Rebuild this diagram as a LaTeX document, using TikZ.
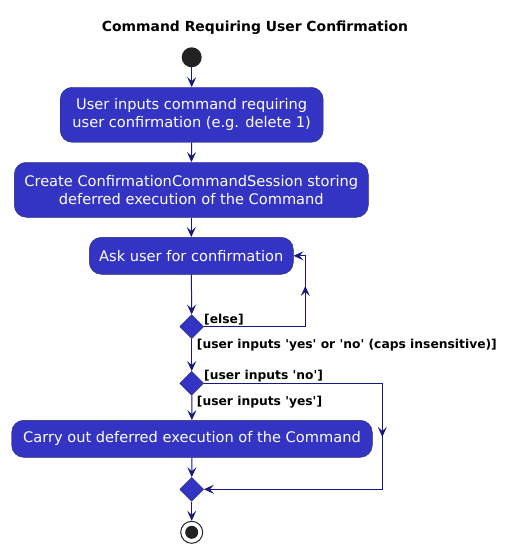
\documentclass[tikz,border=0pt]{standalone}
\usepackage{fontspec}
\setmainfont{DejaVu Sans}
\usetikzlibrary{shapes.geometric,arrows.meta}
\definecolor{actfill}{RGB}{52,52,196}
\definecolor{actline}{RGB}{40,40,110}
\definecolor{flowcol}{RGB}{24,24,128}
\definecolor{dot}{RGB}{34,34,34}
\newcommand{\sq}{\textquotesingle}

\begin{document}
\begin{tikzpicture}[x=1pt,y=-1pt,
  act/.style={draw=actline,fill=actfill,rounded corners=12pt,text=white,align=center,
    inner sep=0pt,font=\fontsize{14.6}{18}\selectfont},
  choice/.style={diamond,draw=actline,fill=actfill,minimum width=24pt,minimum height=24pt,inner sep=0pt},
  guard/.style={font=\bfseries\fontsize{12.3}{14}\selectfont,inner sep=0pt},
  flow/.style={draw=flowcol,line width=1pt,-{Stealth[length=10pt,width=9pt,inset=4pt]}},
  wire/.style={draw=flowcol,line width=1pt}]
  \useasboundingbox (0,0) rectangle (511,553);

  \node[font=\bfseries\fontsize{13.9}{17}\selectfont] (title) at (255,28) {Command Requiring User Confirmation};

  \node[circle,fill=dot,minimum size=20pt,inner sep=0pt] (start) at (191.7,57.3) {};
  \node[act,minimum width=263pt,minimum height=55pt] (input) at (191.7,114.8)
    {User inputs command requiring\\user confirmation (e.g. delete 1)};
  \node[act,minimum width=354pt,minimum height=55pt] (session) at (191.3,189.8)
    {Create ConfirmationCommandSession storing\\deferred execution of the Command};
  \node[act,minimum width=204pt,minimum height=37pt] (ask) at (191.3,255.8) {Ask user for confirmation};
  \node[choice] (valid) at (191.7,326.7) {};
  \node[choice] (answer) at (191.7,383.3) {};
  \node[act,minimum width=360.6pt,minimum height=37pt] (carry) at (192,438.8)
    {Carry out deferred execution of the Command};
  \node[choice] (merge) at (191.7,489.3) {};
  \node[circle,draw=dot,fill=white,line width=1pt,minimum size=22pt,inner sep=0pt] (stop) at (191.7,532.3) {};
  \node[circle,fill=dot,minimum size=13pt,inner sep=0pt] at (stop) {};

  \coordinate (L1) at (305.3,326.7);
  \coordinate (L2) at (305.3,255.8);
  \coordinate (Lm) at (305.3,286);
  \coordinate (N1) at (382.3,383.3);
  \coordinate (N2) at (382.3,489.3);
  \coordinate (Nm) at (382.3,437);

  \draw[flow] (start) -- (input);
  \draw[flow] (input) -- (session);
  \draw[flow] (session) -- (ask);
  \draw[flow] (ask) -- (valid);
  \draw[flow] (valid) -- (answer);
  \draw[flow] (answer) -- (carry);
  \draw[flow] (carry) -- (merge);
  \draw[flow] (merge) -- (stop);
  % retry loop
  \draw[flow] (valid.east) -- (L1) -- (L2) -- (ask.east);
  \draw[flow] (L1) -- (Lm);
  % 'no' branch
  \draw[flow] (answer.east) -- (N1) -- (N2) -- (merge.east);
  \draw[flow] (N1) -- (Nm);

  \node[guard,anchor=west] (gelse) at (204,319.5) {[else]};
  \node[guard,anchor=west] (gvalid) at (196.7,345.5) {[user inputs \sq yes\sq{} or \sq no\sq{} (caps insensitive)]};
  \node[guard,anchor=west] (gno) at (204,375.7) {[user inputs \sq no\sq]};
  \node[guard,anchor=west] (gyes) at (196.7,401.7) {[user inputs \sq yes\sq]};
\end{tikzpicture}
\end{document}
